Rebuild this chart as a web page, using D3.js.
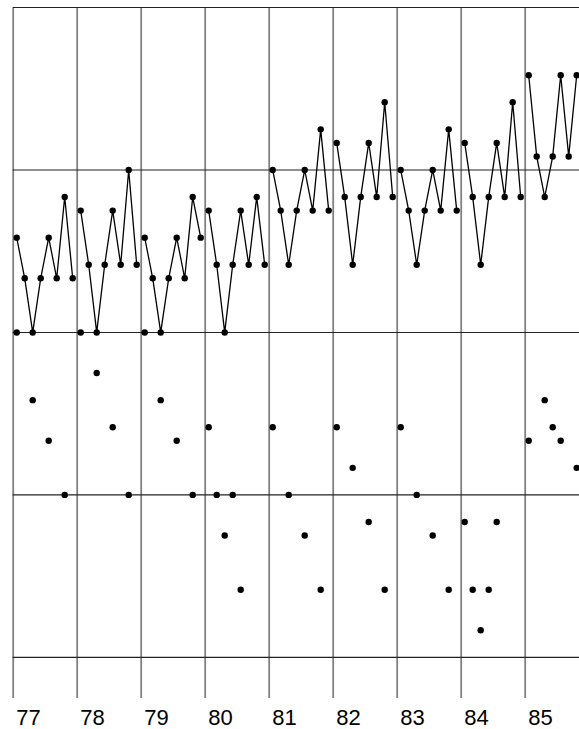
<!DOCTYPE html>
<html>
<head>
<meta charset="utf-8">
<script src="https://cdn.jsdelivr.net/npm/d3@7"></script>
<style>
  html, body { margin: 0; padding: 0; background: #fff; }
  svg { display: block; }
</style>
</head>
<body>
<svg id="chart" width="579" height="729"></svg>
<script>
// ---- data ----
const years = [77, 78, 79, 80, 81, 82, 83, 84, 85];
const gridValues = [24, 12, 0, -12, -24];

// upper series: 8 sub-period values per year (last year partly visible)
const upper77 = [7, 4, 0, 4, 7, 4, 10, 4];
const upper78 = [9, 5, 0, 5, 9, 5, 12, 5];
const upper79 = [7, 4, 0, 4, 7, 4, 10, 7];
const upper80 = [9, 5, 0, 5, 9, 5, 10, 5];
const upper81 = [12, 9, 5, 9, 12, 9, 15, 9];
const upper82 = [14, 10, 5, 10, 14, 10, 17, 10];
const upper83 = [12, 9, 5, 9, 12, 9, 15, 9];
const upper84 = [14, 10, 5, 10, 14, 10, 17, 10];
const upper85 = [19, 13, 10, 13, 19, 13, 19];
const upperSeries = [upper77, upper78, upper79, upper80, upper81, upper82, upper83, upper84, upper85];

// lower points: [sub-period index, value] per year
const lower77 = [[0, 0], [2, -5], [4, -8], [6, -12]];
const lower78 = [[0, 0], [2, -3], [4, -7], [6, -12]];
const lower79 = [[0, 0], [2, -5], [4, -8], [6, -12]];
const lower80 = [[0, -7], [1, -12], [2, -15], [3, -12], [4, -19]];
const lower81 = [[0, -7], [2, -12], [4, -15], [6, -19]];
const lower82 = [[0, -7], [2, -10], [4, -14], [6, -19]];
const lower83 = [[0, -7], [2, -12], [4, -15], [6, -19]];
const lower84 = [[0, -14], [1, -19], [2, -22], [3, -19], [4, -14]];
const lower85 = [[0, -8], [2, -5], [3, -7], [4, -8], [6, -10]];
const lowerSeries = [lower77, lower78, lower79, lower80, lower81, lower82, lower83, lower84, lower85];

const periodsPerYear = 8;

// ---- chart ----
const W = 579, H = 729;
const svg = d3.select("#chart");

const x = d3.scaleLinear().domain([77, 86]).range([12.7, 12.7 + 9 * 64]);
const y = d3.scaleLinear().domain([24, -27]).range([7.5, 698]);
const px = (yr, i) => x(yr + (i + 0.5) / periodsPerYear);

// vertical year lines + labels via axis
const xAxis = d3.axisBottom(x)
  .tickValues(years)
  .tickSize(-(y(-27) - y(24)))
  .tickFormat(d => String(d));
const gx = svg.append("g")
  .attr("transform", `translate(0,${y(-27)})`)
  .call(xAxis);
gx.select(".domain").remove();
gx.selectAll(".tick line")
  .attr("stroke", "#808080")
  .attr("stroke-width", 1.8);
gx.selectAll(".tick text")
  .attr("x", 3)
  .attr("y", 27)
  .attr("dy", null)
  .attr("text-anchor", "start")
  .attr("fill", "#000")
  .style("font-family", "'Liberation Sans', Arial, Helvetica, sans-serif")
  .style("font-size", "22px");

// horizontal grid lines
svg.append("g").selectAll("line")
  .data(gridValues)
  .join("line")
  .attr("x1", x(77))
  .attr("x2", W)
  .attr("y1", d => y(d))
  .attr("y2", d => y(d))
  .attr("stroke", "#222")
  .attr("stroke-width", 1.1);

// upper series: one polyline per year
const line = d3.line()
  .x(d => d[0])
  .y(d => d[1]);

const upperG = svg.append("g");
upperSeries.forEach((vals, k) => {
  const yr = years[k];
  const pts = vals.map((v, i) => [px(yr, i), y(v)]);
  upperG.append("path")
    .attr("d", line(pts))
    .attr("fill", "none")
    .attr("stroke", "#000")
    .attr("stroke-width", 1.3);
  upperG.selectAll(null)
    .data(pts)
    .join("circle")
    .attr("cx", d => d[0])
    .attr("cy", d => d[1])
    .attr("r", 3.2)
    .attr("fill", "#000");
});

// lower points
const lowerG = svg.append("g");
lowerSeries.forEach((pts, k) => {
  const yr = years[k];
  lowerG.selectAll(null)
    .data(pts)
    .join("circle")
    .attr("cx", d => px(yr, d[0]))
    .attr("cy", d => y(d[1]))
    .attr("r", 3.2)
    .attr("fill", "#000");
});
</script>
</body>
</html>
